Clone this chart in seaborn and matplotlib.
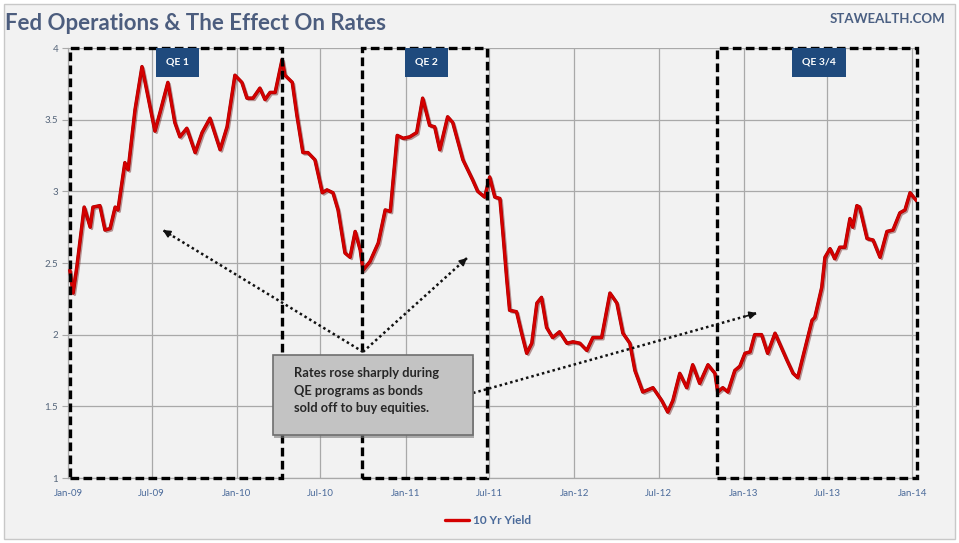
import matplotlib
matplotlib.use("Agg")
import matplotlib.pyplot as plt
import matplotlib.dates as mdates
import matplotlib.patheffects as pe
from matplotlib.patches import Rectangle
from matplotlib.lines import Line2D
import pandas as pd
import seaborn as sns

# 10-year Treasury yield, 2009 - 2014
dates = [
    "2009-01-05", "2009-01-12", "2009-01-20", "2009-02-05", "2009-02-18", "2009-02-24",
    "2009-03-11", "2009-03-22", "2009-04-02", "2009-04-13", "2009-04-19", "2009-05-04",
    "2009-05-11", "2009-05-26", "2009-06-10", "2009-06-23", "2009-07-08", "2009-07-19",
    "2009-08-05", "2009-08-20", "2009-08-31", "2009-09-15", "2009-10-03", "2009-10-18",
    "2009-11-04", "2009-11-26", "2009-12-11", "2009-12-28", "2010-01-12", "2010-01-23",
    "2010-02-05", "2010-02-20", "2010-03-03", "2010-03-14", "2010-03-25", "2010-04-09",
    "2010-04-15", "2010-05-01", "2010-05-11", "2010-05-24", "2010-06-04", "2010-06-19",
    "2010-07-05", "2010-07-15", "2010-07-28", "2010-08-08", "2010-08-23", "2010-09-03",
    "2010-09-14", "2010-09-25", "2010-10-01", "2010-10-16", "2010-11-03", "2010-11-18",
    "2010-11-29", "2010-12-14", "2010-12-27", "2011-01-10", "2011-01-25", "2011-02-07",
    "2011-02-22", "2011-03-05", "2011-03-16", "2011-04-02", "2011-04-13", "2011-05-05",
    "2011-05-26", "2011-06-06", "2011-06-21", "2011-07-02", "2011-07-13", "2011-07-24",
    "2011-07-30", "2011-08-08", "2011-08-14", "2011-08-29", "2011-09-09", "2011-09-20",
    "2011-10-01", "2011-10-12", "2011-10-22", "2011-11-02", "2011-11-15", "2011-11-30",
    "2011-12-16", "2011-12-29", "2012-01-13", "2012-01-28", "2012-02-10", "2012-02-29",
    "2012-03-18", "2012-04-02", "2012-04-15", "2012-04-30", "2012-05-11", "2012-05-28",
    "2012-06-19", "2012-07-08", "2012-07-21", "2012-08-01", "2012-08-16", "2012-08-31",
    "2012-09-13", "2012-09-28", "2012-10-16", "2012-10-31", "2012-11-06", "2012-11-17",
    "2012-11-28", "2012-12-13", "2012-12-24", "2013-01-04", "2013-01-15", "2013-01-25",
    "2013-02-09", "2013-02-22", "2013-03-10", "2013-04-05", "2013-04-18", "2013-04-28",
    "2013-05-29", "2013-06-04", "2013-06-19", "2013-06-26", "2013-07-07", "2013-07-17",
    "2013-07-28", "2013-08-08", "2013-08-19", "2013-08-25", "2013-09-03", "2013-09-09",
    "2013-09-25", "2013-10-08", "2013-10-23", "2013-11-07", "2013-11-20", "2013-12-05",
    "2013-12-16", "2013-12-27", "2014-01-11",
]
yields = [
    2.45, 2.29, 2.47, 2.89, 2.75, 2.89,
    2.90, 2.73, 2.74, 2.89, 2.87, 3.20,
    3.15, 3.57, 3.87, 3.66, 3.42, 3.55,
    3.76, 3.48, 3.38, 3.44, 3.27, 3.41,
    3.51, 3.29, 3.45, 3.81, 3.76, 3.65,
    3.65, 3.72, 3.64, 3.69, 3.69, 3.92,
    3.81, 3.76, 3.53, 3.27, 3.27, 3.22,
    2.99, 3.01, 2.99, 2.87, 2.57, 2.54,
    2.72, 2.59, 2.45, 2.51, 2.64, 2.87,
    2.86, 3.39, 3.37, 3.38, 3.41, 3.65,
    3.46, 3.45, 3.29, 3.52, 3.48, 3.22,
    3.08, 3.00, 2.96, 3.10, 2.96, 2.95,
    2.73, 2.38, 2.17, 2.16, 2.01, 1.87,
    1.94, 2.22, 2.26, 2.05, 1.98, 2.02,
    1.94, 1.95, 1.94, 1.89, 1.98, 1.98,
    2.29, 2.22, 2.01, 1.94, 1.75, 1.60,
    1.63, 1.54, 1.46, 1.54, 1.73, 1.63,
    1.79, 1.66, 1.79, 1.73, 1.60, 1.63,
    1.60, 1.75, 1.78, 1.87, 1.88, 2.00,
    2.00, 1.87, 2.01, 1.82, 1.73, 1.70,
    2.10, 2.12, 2.33, 2.54, 2.60, 2.53,
    2.61, 2.61, 2.81, 2.75, 2.90, 2.89,
    2.67, 2.66, 2.54, 2.72, 2.73, 2.85,
    2.87, 2.99, 2.93,
]

# Quantitative easing programs (dashed frames)
qe_names = ["QE 1", "QE 2", "QE 3/4"]
qe_starts = ["2009-01-05", "2010-09-29", "2012-11-05"]
qe_ends = ["2010-04-09", "2011-06-26", "2014-01-11"]

y_ticks = [1, 1.5, 2, 2.5, 3, 3.5, 4]
y_tick_labels = ["1", "1.5", "2", "2.5", "3", "3.5", "4"]

series_name = "10 Yr Yield"
note_text = "Rates rose sharply during\nQE programs as bonds\nsold off to buy equities."

df = pd.DataFrame({"date": pd.to_datetime(dates), "yield": yields})

sns.set_theme(style="white")
plt.rcParams["font.family"] = ["Lato", "DejaVu Sans"]

BG = "#f2f2f2"
RED = "#d40000"
fig = plt.figure(figsize=(9.59, 5.43), dpi=100, facecolor="white")
fig.patches.append(Rectangle((4 / 959, 4 / 543), 951 / 959, 535 / 543,
                             transform=fig.transFigure, facecolor=BG,
                             edgecolor="#c8c8c8", lw=1, zorder=-10))

ax = fig.add_axes([68 / 959, 1 - 478 / 543, 849 / 959, 430 / 543])
ax.set_facecolor(BG)

# yield line
sns.lineplot(data=df, x="date", y="yield", ax=ax, color=RED, lw=1.9,
             legend=False, zorder=5,
             path_effects=[pe.SimpleLineShadow(offset=(1.2, -1.2), shadow_color="#5a0000",
                                               alpha=0.4),
                           pe.Stroke(linewidth=2.5, foreground="#a00000"),
                           pe.Normal()])

ax.set_xlim(pd.Timestamp("2009-01-01"), pd.Timestamp("2014-01-11"))
ax.set_ylim(1, 4)
ax.set_xlabel("")
ax.set_ylabel("")

# grid
ax.set_yticks(y_ticks)
ax.set_yticklabels(y_tick_labels)
xt = pd.date_range("2009-01-01", "2014-01-01", freq="6MS")
ax.set_xticks(xt)
ax.xaxis.set_major_formatter(mdates.DateFormatter("%b-%y"))
ax.grid(True, color="#a9a9a9", lw=0.9)
ax.set_axisbelow(True)
for s in ["top", "right"]:
    ax.spines[s].set_visible(False)
for s in ["left", "bottom"]:
    ax.spines[s].set_color("#a9a9a9")
    ax.spines[s].set_linewidth(0.9)
ax.tick_params(axis="y", length=4, width=0.8, color="#a9a9a9",
               labelsize=7, labelcolor="#55657a", pad=3, left=True)
ax.tick_params(axis="x", length=0, labelsize=7, labelcolor="#4a6a9a", pad=8)

# QE frames and labels
for name, s, e in zip(qe_names, qe_starts, qe_ends):
    xs = mdates.date2num(pd.Timestamp(s))
    xe = mdates.date2num(pd.Timestamp(e))
    ax.add_patch(Rectangle((xs, 1.0), xe - xs, 3.0, fill=False, edgecolor="black",
                           lw=2.4, linestyle=(0, (2.6, 1.3)), clip_on=False, zorder=6))
    xm = (xs + xe) / 2 + 4
    ax.text(xm, 3.9, name, ha="center", va="center", fontsize=7.5, color="white",
            fontweight="bold", zorder=8,
            bbox=dict(boxstyle="square,pad=0.95", facecolor="#1f4a7d", edgecolor="none"))


def dotted_arrow(start, end):
    sx, sy = mdates.date2num(pd.Timestamp(start[0])), start[1]
    ex, ey = mdates.date2num(pd.Timestamp(end[0])), end[1]
    ax.plot([sx, ex], [sy, ey], color="#111111", lw=1.8, linestyle=(0, (1, 1.2)),
            zorder=7)
    ax.annotate("", xy=(ex, ey), xytext=(ex - (ex - sx) * 0.04, ey - (ey - sy) * 0.04),
                arrowprops=dict(arrowstyle="-|>", color="#111111", lw=1.2,
                                mutation_scale=11, shrinkA=0, shrinkB=0), zorder=7)


dotted_arrow(("2010-10-01", 1.88), ("2009-07-25", 2.73))
dotted_arrow(("2010-10-01", 1.88), ("2011-05-14", 2.535))
dotted_arrow(("2011-05-27", 1.593), ("2013-01-30", 2.151))

# note box with drop shadow
bx0 = mdates.date2num(pd.Timestamp("2010-03-20"))
bx1 = mdates.date2num(pd.Timestamp("2011-05-26"))
ax.add_patch(Rectangle((bx0 + 3, 1.28), bx1 - bx0, 0.557, facecolor="#7a7a7a",
                       edgecolor="none", alpha=0.6, zorder=8))
ax.add_patch(Rectangle((bx0, 1.30), bx1 - bx0, 0.557, facecolor="#c3c3c3",
                       edgecolor="#6e6e6e", lw=1.2, zorder=9))
ax.text(bx0 + 46, 1.61, note_text, ha="left", va="center", fontsize=9.3,
        fontweight="bold", color="#262626", linespacing=1.55, zorder=10)

# titles
fig.text(5 / 959, 1 - 24 / 543, "Fed Operations & The Effect On Rates", ha="left",
         va="center", fontsize=16, fontweight="bold", color="#4c5d7e")
fig.text(945 / 959, 1 - 19 / 543, "STAWEALTH.COM", ha="right", va="center",
         fontsize=9.5, fontweight="bold", color="#4a5f82")

# legend
handle = Line2D([], [], color=RED, lw=2.4)
leg = fig.legend([handle], [series_name], loc="center", bbox_to_anchor=(488 / 959, 22 / 543),
                 frameon=False, fontsize=8.5, handlelength=2.0, handletextpad=0.3)
for t in leg.get_texts():
    t.set_color("#4a6a9a")
    t.set_fontweight("bold")

fig.savefig("out.png", dpi=100, facecolor="white")
